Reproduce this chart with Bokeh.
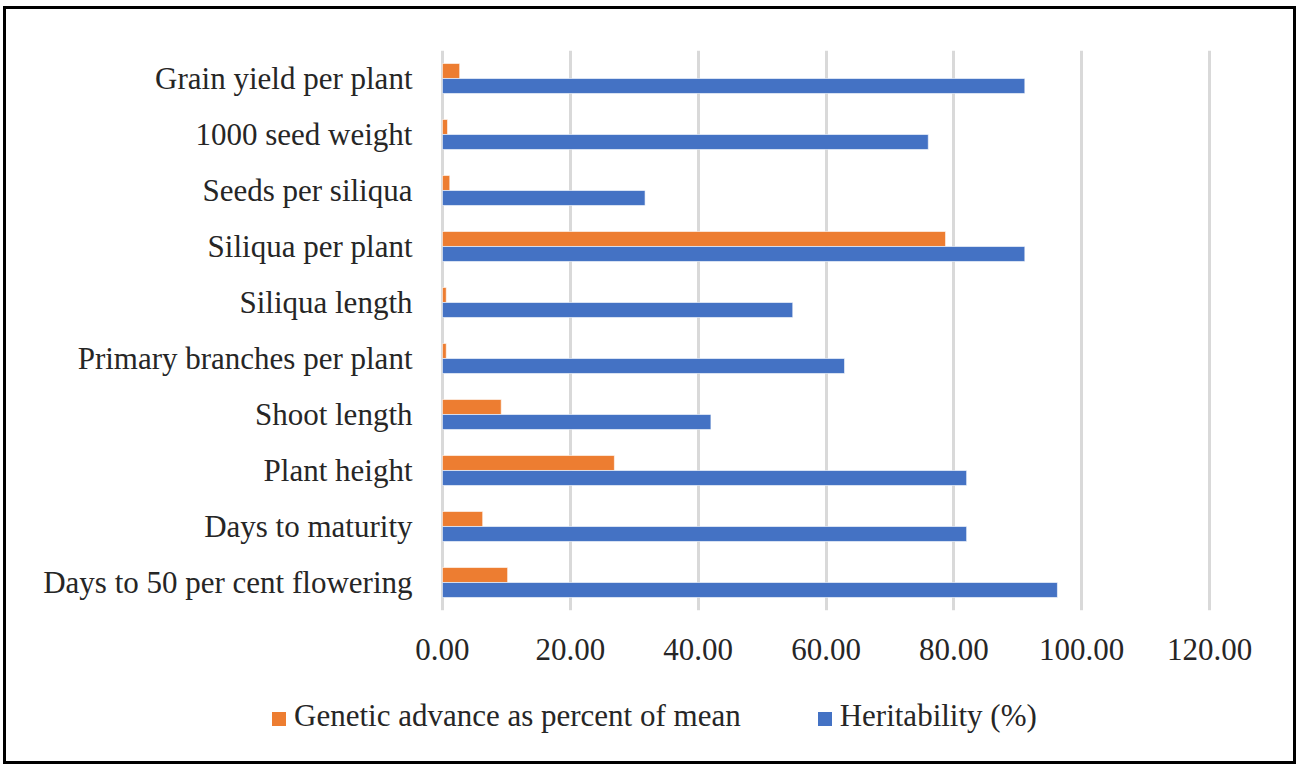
from bokeh.plotting import figure
from bokeh.layouts import column
from bokeh.models import (FactorRange, Range1d, FixedTicker, NumeralTickFormatter,
                          ColumnDataSource, Div)
from bokeh.transform import dodge
from bokeh.embed import file_html
from bokeh.resources import INLINE

categories = ["Grain yield per plant", "1000 seed weight", "Seeds per siliqua",
              "Siliqua per plant", "Siliqua length", "Primary branches per plant",
              "Shoot length", "Plant height", "Days to maturity",
              "Days to 50 per cent flowering"]
heritability = [91.1, 76.0, 31.7, 91.1, 54.8, 62.9, 42.0, 82.0, 82.0, 96.2]
genetic_advance = [2.7, 0.8, 1.15, 78.7, 0.6, 0.6, 9.2, 26.9, 6.3, 10.2]
trailing_space = ["Grain yield per plant", "1000 seed weight", "Siliqua length",
                  "Shoot length", "Plant height"]
x_ticks = [0, 20, 40, 60, 80, 100, 120]
series_names = ["Genetic advance as percent of mean", "Heritability (%)"]
series_colors = ["#ED7D31", "#4472C4"]

FONT = "Liberation Serif"
FS = "31px"
TXT = "#262626"

src = ColumnDataSource(dict(cat=categories, her=heritability, ga=genetic_advance))

p = figure(width=1287, height=680, output_backend="svg", toolbar_location=None,
           y_range=FactorRange(factors=list(reversed(categories)), range_padding=0),
           x_range=Range1d(-0.3, 120.3),
           min_border_left=434, min_border_right=82, min_border_top=41,
           min_border_bottom=79, margin=0)
p.outline_line_color = None
p.background_fill_color = "white"
p.border_fill_color = "white"

p.hbar(y=dodge("cat", 0.134, range=p.y_range), right="ga", left=0, height=0.267,
       source=src, fill_color=series_colors[0], line_color="white", line_alpha=0.6,
       line_width=1)
p.hbar(y=dodge("cat", -0.134, range=p.y_range), right="her", left=0, height=0.267,
       source=src, fill_color=series_colors[1], line_color="white", line_alpha=0.6,
       line_width=1)

p.xaxis.ticker = FixedTicker(ticks=x_ticks)
p.xaxis.formatter = NumeralTickFormatter(format="0.00")
p.xaxis.axis_line_color = None
p.xaxis.major_tick_line_color = None
p.xaxis.minor_tick_line_color = None
p.xaxis.major_label_standoff = 22
p.xaxis.major_label_text_font = FONT
p.xaxis.major_label_text_font_size = FS
p.xaxis.major_label_text_color = TXT

p.yaxis.axis_line_color = None
p.yaxis.major_tick_line_color = None
p.yaxis.minor_tick_line_color = None
p.yaxis.major_label_standoff = 22
p.yaxis.major_label_text_font = FONT
p.yaxis.major_label_text_font_size = FS
p.yaxis.major_label_text_color = TXT
p.yaxis.major_label_overrides = {c: c + "\u00a0" for c in trailing_space}

p.ygrid.grid_line_color = None
p.xgrid.grid_line_color = "#d9d9d9"
p.xgrid.grid_line_width = 3

# legend strip below the chart
entries = []
for i, (name, col) in enumerate(zip(series_names, series_colors)):
    gap = "0" if i == 0 else "77px"
    entries.append(
        f'<span style="display:inline-block;width:14px;height:14px;background:{col};'
        f'margin-left:{gap};margin-right:8px;vertical-align:0px"></span>{name}')
legend_html = (f'<div style="font-family:\'{FONT}\';font-size:{FS};color:{TXT};'
               f'padding-left:266px;padding-top:9px;line-height:36px;white-space:nowrap">'
               + "".join(entries) + "</div>")
leg = Div(text=legend_html, width=1287, height=72, margin=0)

layout = column(p, leg, spacing=0, width=1293, height=758, margin=0,
                styles={"border": "3px solid black", "margin-left": "3px",
                        "margin-top": "6px", "background": "white",
                        "overflow": "hidden"})

open("out.html", "w").write(file_html(layout, INLINE))
